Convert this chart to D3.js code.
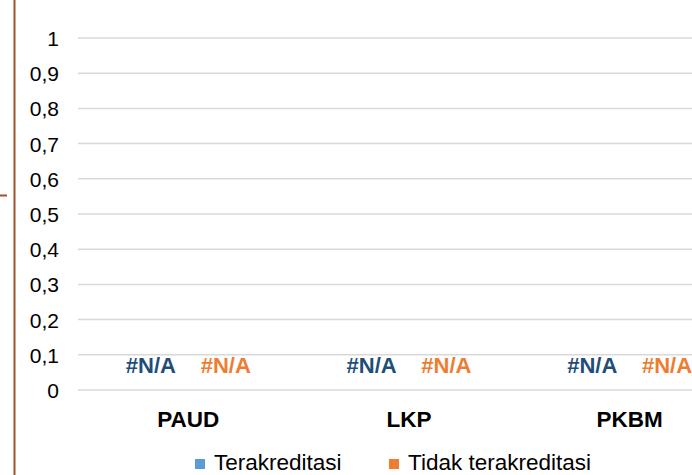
<!DOCTYPE html>
<html>
<head>
<meta charset="utf-8">
<script src="https://cdn.jsdelivr.net/npm/d3@7"></script>
<style>
  body { margin: 0; background: #fff; }
  svg { display: block; font-family: Arial, "Liberation Sans", sans-serif; }
</style>
</head>
<body>
<svg id="chart" width="692" height="475"></svg>
<script>
// data - all values missing in the source sheet (#N/A)
var categories = ['PAUD', 'LKP', 'PKBM'];
var seriesNames = ['Terakreditasi', 'Tidak terakreditasi'];
var terakreditasi = [null, null, null];
var tidakTerakreditasi = [null, null, null];
var yTicks = [0, 0.1, 0.2, 0.3, 0.4, 0.5, 0.6, 0.7, 0.8, 0.9, 1];

var barColors = ['#5b9bd5', '#ed7d31'];
var labelColors = ['#1f4e79', '#ed7d31'];
var font = 'Arial, "Liberation Sans", sans-serif';

var svg = d3.select('#chart');

// brown frame line on the left
svg.append('line')
    .attr('x1', 14.5).attr('x2', 14.5)
    .attr('y1', 0).attr('y2', 475)
    .attr('stroke', '#a0522d')
    .attr('stroke-width', 2)
svg.append('line')
    .attr('x1', 0).attr('x2', 7)
    .attr('y1', 195.5).attr('y2', 195.5)
    .attr('stroke', '#a0522d')
    .attr('stroke-width', 2)

var xScale = d3.scaleBand()
    .domain(categories)
    .range([78, 740])

var xInner = d3.scaleBand()
    .domain(seriesNames)
    .range([0, xScale.bandwidth()])
    .paddingInner(0.05)
    .paddingOuter(0.5)

var yScale = d3.scaleLinear()
    .domain([0, 1])
    .range([390, 38])

// gridlines
svg.append('g')
    .selectAll('line')
    .data(yTicks)
    .enter().append('line')
    .attr('x1', 78)
    .attr('x2', 692)
    .attr('y1', function(d) { return yScale(d); })
    .attr('y2', function(d) { return yScale(d); })
    .attr('stroke', '#d9d9d9')
    .attr('stroke-width', 1.5)

// y axis labels
var yAxis = d3.axisLeft(yScale)
    .tickValues(yTicks)
    .tickSize(0)
    .tickPadding(0)
    .tickFormat(function(d) { return String(d).replace('.', ','); })

svg.append('g')
    .attr('transform', 'translate(59,0)')
    .call(yAxis)
    .call(function(g) { g.select('.domain').remove(); })
    .selectAll('text')
    .attr('dy', '0.36em')
    .attr('font-size', 21)
    .attr('font-family', font)
    .attr('fill', '#000')

// x axis labels
var xAxis = d3.axisBottom(xScale)
    .tickSize(0)
    .tickPadding(0)

svg.append('g')
    .attr('transform', 'translate(0,427)')
    .call(xAxis)
    .call(function(g) { g.select('.domain').remove(); })
    .selectAll('text')
    .attr('dy', 0)
    .attr('font-size', 22.5)
    .attr('font-weight', 'bold')
    .attr('font-family', font)
    .attr('fill', '#000')

// bars + data labels
var series = [terakreditasi, tidakTerakreditasi];
series.forEach(function(vals, si) {
    var g = svg.append('g');
    g.selectAll('rect')
        .data(vals)
        .enter().append('rect')
        .attr('x', function(d, i) { return xScale(categories[i]) + xInner(seriesNames[si]); })
        .attr('width', xInner.bandwidth())
        .attr('y', function(d) { return yScale(d || 0); })
        .attr('height', function(d) { return yScale(0) - yScale(d || 0); })
        .attr('fill', barColors[si])

    g.selectAll('text')
        .data(vals)
        .enter().append('text')
        .attr('x', function(d, i) { return xScale(categories[i]) + xInner(seriesNames[si]) + xInner.bandwidth() / 2; })
        .attr('y', function(d) { return yScale(d || 0) - 17; })
        .attr('text-anchor', 'middle')
        .attr('font-size', 22)
        .attr('font-weight', 'bold')
        .attr('fill', labelColors[si])
        .text(function(d) { return d == null ? '#N/A' : String(d).replace('.', ','); })
})

// legend
var legendX = [195, 389];
var legend = svg.append('g')
    .selectAll('g')
    .data(seriesNames)
    .enter().append('g')
    .attr('transform', function(d, i) { return 'translate(' + legendX[i] + ',459)'; })

legend.append('rect')
    .attr('width', 10).attr('height', 10)
    .attr('fill', function(d, i) { return barColors[i]; })

legend.append('text')
    .attr('x', 19)
    .attr('y', 11)
    .attr('font-size', 22.5)
    .attr('fill', '#000')
    .text(function(d) { return d; })
</script>
</body>
</html>
